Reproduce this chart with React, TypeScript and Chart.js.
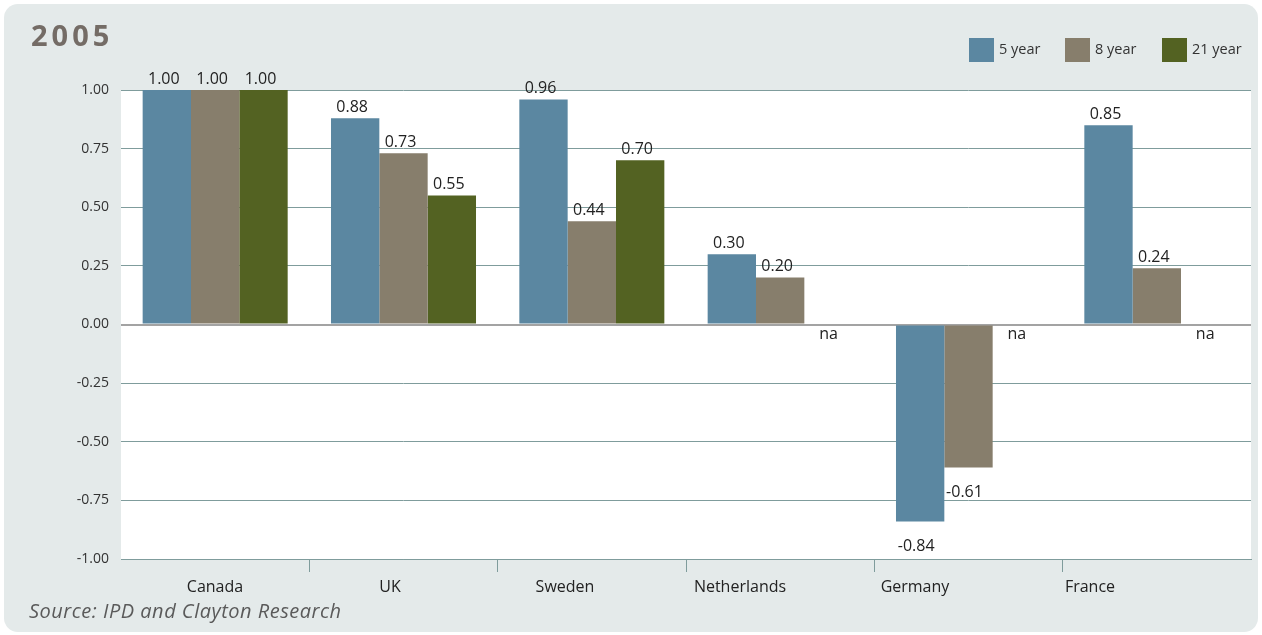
import React, { useEffect, useRef } from "react";
import { Chart, registerables } from "chart.js";

Chart.register(...registerables);

const categories = ["Canada", "UK", "Sweden", "Netherlands", "Germany", "France"];
const seriesNames = ["5 year", "8 year", "21 year"];
const fiveYear = [1.0, 0.88, 0.96, 0.3, -0.84, 0.85];
const eightYear = [1.0, 0.73, 0.44, 0.2, -0.61, 0.24];
const twentyOneYear: (number | null)[] = [1.0, 0.55, 0.7, null, null, null];
const seriesColors = ["#5b87a1", "#877e6c", "#536222"];
const chartTitle = "2005";
const sourceText = "Source: IPD and Clayton Research";
const naText = "na";

const FONT = "'Open Sans', 'Noto Sans', sans-serif";

const decorPlugin = {
  id: "decor",
  beforeDraw(chart: any) {
    const { ctx, chartArea } = chart;
    ctx.save();
    ctx.fillStyle = "#ffffff";
    ctx.fillRect(chartArea.left, chartArea.top, chartArea.right - chartArea.left, chartArea.bottom - chartArea.top);
    ctx.restore();
  },
  afterDraw(chart: any) {
    const { ctx } = chart;
    ctx.save();
    // title
    ctx.fillStyle = "#746c66";
    ctx.font = `bold 29px ${FONT}`;
    (ctx as any).letterSpacing = "4px";
    ctx.textAlign = "left";
    ctx.textBaseline = "alphabetic";
    ctx.fillText(chartTitle, 31, 46);
    (ctx as any).letterSpacing = "0px";

    // legend
    ctx.font = `14.5px ${FONT}`;
    ctx.textBaseline = "middle";
    const boxX = [969, 1065, 1162];
    chart.data.datasets.forEach((ds: any, i: number) => {
      ctx.fillStyle = ds.backgroundColor;
      ctx.fillRect(boxX[i], 38, 25, 24);
      ctx.fillStyle = "#333333";
      ctx.fillText(ds.label, boxX[i] + 30, 50);
    });

    // source
    ctx.font = `italic 20px ${FONT}`;
    (ctx as any).letterSpacing = "0.5px";
    ctx.fillStyle = "#5a5a5a";
    ctx.textBaseline = "middle";
    ctx.fillText(sourceText, 29, 612);
    (ctx as any).letterSpacing = "0px";

    // data labels
    const yScale = chart.scales.y;
    const zeroY = yScale.getPixelForValue(0);
    ctx.font = `16px ${FONT}`;
    ctx.fillStyle = "#222222";
    ctx.textAlign = "center";
    ctx.textBaseline = "middle";
    chart.data.datasets.forEach((ds: any, di: number) => {
      const meta = chart.getDatasetMeta(di);
      meta.data.forEach((el: any, i: number) => {
        const v = ds.data[i];
        if (v === null || v === undefined) {
          ctx.fillText(naText, el.x, zeroY + 10);
        } else if (v >= 0) {
          ctx.fillText(v.toFixed(2), el.x - 3, el.y - 11);
        } else {
          ctx.fillText(v.toFixed(2), el.x - 4, el.y + 25);
        }
      });
    });
    ctx.restore();
  },
};

export default function App() {
  const canvasRef = useRef<HTMLCanvasElement | null>(null);

  useEffect(() => {
    if (!canvasRef.current) return;
    const chart = new Chart(canvasRef.current, {
      type: "bar",
      data: {
        labels: categories,
        datasets: [
          { label: seriesNames[0], data: fiveYear, backgroundColor: seriesColors[0] },
          { label: seriesNames[1], data: eightYear, backgroundColor: seriesColors[1] },
          { label: seriesNames[2], data: twentyOneYear, backgroundColor: seriesColors[2] },
        ],
      },
      options: {
        responsive: false,
        animation: false,
        maintainAspectRatio: false,
        layout: { padding: { top: 90, right: 11, left: 0, bottom: 0 } },
        plugins: {
          legend: { display: false },
          title: { display: false },
          tooltip: { enabled: false },
        },
        datasets: {
          bar: { categoryPercentage: 0.77, barPercentage: 1.0 },
        },
        scales: {
          x: {
            weight: 0,
            offset: true,
            grid: {
              offset: true,
              drawOnChartArea: false,
              drawTicks: true,
              tickLength: 13,
              color: (c: any) =>
                c.type !== "tick" || c.index === 0 || c.index >= categories.length ? "rgba(0,0,0,0)" : "#7f9c9c",
            },
            border: { display: true, color: "#7f9c9c", width: 1 },
            ticks: { display: false },
            afterFit: (s: any) => {
              s.height = 13;
            },
          },
          x2: {
            type: "linear",
            position: "bottom",
            weight: 1,
            offset: false,
            min: -0.537,
            max: 5.92,
            afterBuildTicks: (s: any) => {
              s.ticks = categories.map((_, i) => ({ value: i }));
            },
            ticks: {
              autoSkip: false,
              maxRotation: 0,
              color: "#222222",
              font: { family: FONT, size: 16 },
              padding: 6,
              callback: (v: any) => categories[Math.round(Number(v))] ?? "",
            },
            grid: { display: false, drawTicks: false, offset: false },
            border: { display: false },
            afterFit: (s: any) => {
              s.height = 63;
            },
          },
          y: {
            min: -1,
            max: 1,
            ticks: {
              stepSize: 0.25,
              color: "#333333",
              font: { family: FONT, size: 14 },
              padding: 12,
              callback: (v: any) => Number(v).toFixed(2),
            },
            grid: {
              drawTicks: false,
              color: (c: any) => (c.tick && c.tick.value === 0 ? "#a3a3a3" : "#7f9c9c"),
              lineWidth: (c: any) => (c.tick && c.tick.value === 0 ? 2 : 1),
            },
            border: { display: false },
            afterFit: (s: any) => {
              s.width = 121;
            },
          },
        },
      },
      plugins: [decorPlugin],
    });
    return () => chart.destroy();
  }, []);

  return (
    <div style={{ position: "absolute", left: 0, top: 0, width: 1262, height: 635, background: "#ffffff" }}>
      <div
        style={{
          position: "absolute",
          left: 4,
          top: 4,
          width: 1254,
          height: 628,
          borderRadius: 14,
          background: "#e4eaea",
        }}
      />
      <canvas ref={canvasRef} width={1262} height={635} style={{ position: "absolute", left: 0, top: 0 }} />
    </div>
  );
}
